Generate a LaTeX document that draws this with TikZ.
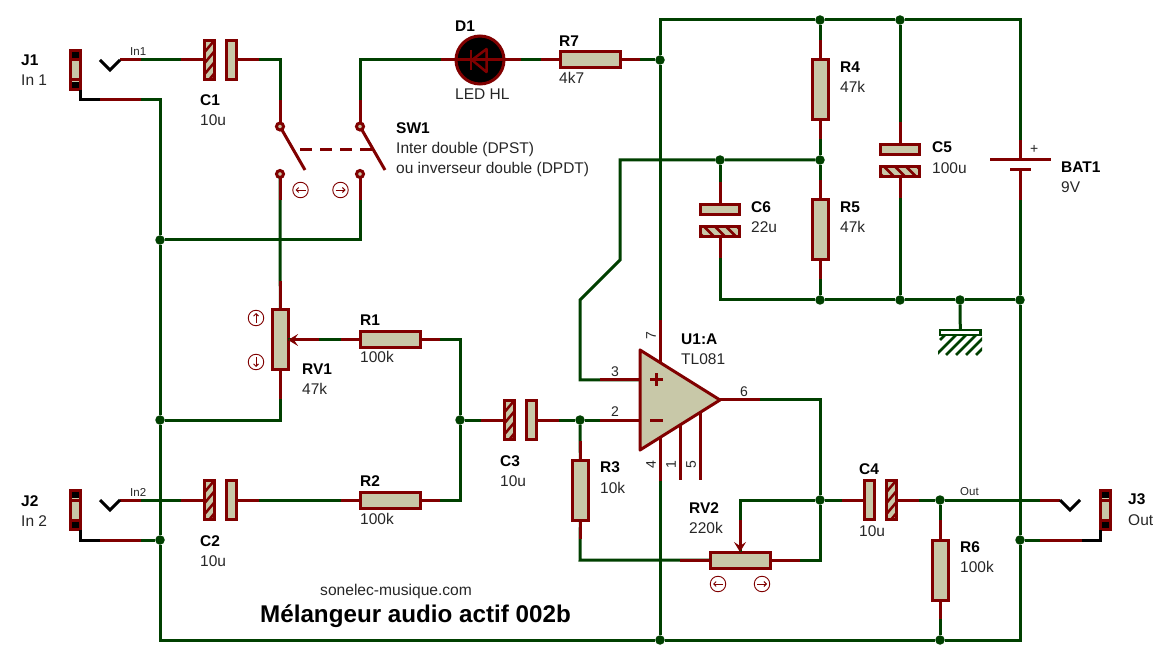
\documentclass[tikz,border=0pt]{standalone}
\usepackage{fontspec}
\setmainfont{Liberation Sans}
\usetikzlibrary{arrows.meta}
\definecolor{wgreen}{HTML}{004000}
\definecolor{pinred}{HTML}{800000}
\definecolor{tan}{HTML}{C8C8A8}
\tikzset{
 gw/.style={draw=wgreen,line width=3pt,line join=miter},
 mw/.style={draw=pinred,line width=3pt},
 bw/.style={draw=black,line width=3pt,line join=miter},
 body/.style={draw=pinred,fill=tan,line width=3pt,inner sep=0pt,outer sep=0pt,rectangle},
 resh/.style={body,minimum width=60pt,minimum height=16pt},
 resv/.style={body,minimum width=16pt,minimum height=60pt},
 potv/.style={body,minimum width=15.5pt,minimum height=60pt},
 capv/.style={body,minimum width=9.5pt,minimum height=39.5pt},
 caph/.style={body,minimum width=39.5pt,minimum height=9.5pt},
 hatchv/.style={capv,path picture={\foreach \k in {-30,-19,...,30}
   \draw[pinred,line width=2.5pt] ([shift={(-10pt,{\k pt-12pt})}]path picture bounding box.center) -- ++(20pt,24pt);}},
 hatchh/.style={caph,path picture={\foreach \k in {-33,-22,...,33}
   \draw[pinred,line width=2.5pt] ([shift={({\k pt-10pt},10pt)}]path picture bounding box.center) -- ++(20pt,-20pt);}},
 dot/.style={circle,fill=wgreen,inner sep=0pt,outer sep=0pt,minimum size=9.5pt},
 contact/.style={circle,draw=pinred,fill=tan,line width=3pt,inner sep=0pt,outer sep=0pt,minimum size=7pt},
 jackbox/.style={body,minimum width=10pt,minimum height=39.5pt},
 ctl/.style={circle,draw=pinred,line width=.9pt,inner sep=0pt,minimum size=15.5pt},
 ctlar/.style={draw=pinred,line width=.9pt,-{Straight Barb[length=2.5pt,width=5pt]}},
 bl/.style={anchor=base west,inner sep=0pt,font=\fontsize{15.5}{17}\selectfont\bfseries},
 vl/.style={anchor=base west,inner sep=0pt,text=black!85,font=\fontsize{15.5}{17}\selectfont},
 sm/.style={anchor=base west,inner sep=0pt,text=black!85,font=\fontsize{11.5}{13}\selectfont},
 pn/.style={inner sep=0pt,text=black!85,font=\fontsize{14}{15}\selectfont},
}
\newcommand\jackdeco[1]{%
 \fill[black] ([yshift=15pt]#1.center) +(-3.5pt,-3.2pt) rectangle +(3.5pt,3.2pt);
 \fill[black] ([yshift=-15pt]#1.center) +(-3.5pt,-3.2pt) rectangle +(3.5pt,3.2pt);
 \draw[pinred,line width=3pt] ([yshift=10pt]#1.center) +(-5pt,0) -- +(5pt,0);
 \draw[pinred,line width=3pt] ([yshift=-10pt]#1.center) +(-5pt,0) -- +(5pt,0);}
\newcommand\ctlsym[4]{\node[ctl] (#1) at (#2,#3) {};
 \draw[ctlar,shift={(#1.center)},rotate=#4] (-5pt,0pt) -- (5pt,0pt);}
\begin{document}
\begin{tikzpicture}[x=1pt,y=-1pt]
\useasboundingbox[fill=white] (0,0) rectangle (1160,660);
% components
\node[jackbox] (J1) at (75,70) {};
\node[jackbox] (J2) at (75,510) {};
\node[jackbox] (J3) at (1105,510) {};
\jackdeco{J1}\jackdeco{J2}\jackdeco{J3}
\coordinate (J1t) at (120,60);
\coordinate (J2t) at (120,500);
\coordinate (J3t) at (1060,500);
\coordinate (J1s) at (80,100);
\coordinate (J2s) at (80,540);
\coordinate (J3s) at (1100,540);
\node[hatchv] (C1L) at (209.7,60) {};
\node[capv] (C1R) at (231.5,60) {};
\node[hatchv] (C2L) at (209.7,500) {};
\node[capv] (C2R) at (231.5,500) {};
\node[hatchv] (C3L) at (509.7,420) {};
\node[capv] (C3R) at (531.5,420) {};
\node[capv] (C4L) at (869.5,500) {};
\node[hatchv] (C4R) at (891.5,500) {};
\node[caph] (C5a) at (900,149.3) {};
\node[hatchh] (C5b) at (900,171.5) {};
\node[caph] (C6a) at (720,209.3) {};
\node[hatchh] (C6b) at (720,231.5) {};
\node[resh] (R1) at (390.5,340) {};
\node[resh] (R2) at (390.5,500) {};
\node[resv] (R3) at (580.3,490) {};
\node[resv] (R4) at (820,90) {};
\node[resv] (R5) at (820,230) {};
\node[resv] (R6) at (940,570) {};
\node[resh] (R7) at (590.5,60) {};
\node[potv] (RV1) at (280.3,340) {};
\node[resh] (RV2) at (740,560) {};
\node[circle,draw=pinred,fill=black,line width=3pt,inner sep=0pt,outer sep=0pt,minimum size=48pt] (D1) at (480,60) {};
\node[contact] (SWa) at (280,126.5) {};
\node[contact] (SWb) at (360,126.5) {};
\node[contact] (SWc) at (280,174) {};
\node[contact] (SWd) at (360,174) {};
\node[inner sep=0pt,outer sep=0pt,minimum width=80pt,minimum height=100pt] (U1) at (680,400) {};
\node[inner sep=0pt,outer sep=0pt,minimum width=60pt,minimum height=10pt] (BAT1) at (1020,165) {};
\node[draw=wgreen,fill=white,line width=2.5pt,inner sep=0pt,outer sep=0pt,minimum width=40.5pt,minimum height=5pt] (GND) at (960.3,332.5) {};
% junctions
\node[dot] (jA) at (160,240) {};
\node[dot] (jB) at (160,420) {};
\node[dot] (jC) at (160,540) {};
\node[dot] (jD) at (660,640) {};
\node[dot] (jE) at (940,640) {};
\node[dot] (jF) at (460,420) {};
\node[dot] (jG) at (580,420) {};
\node[dot] (jH) at (720,160) {};
\node[dot] (jI) at (820,160) {};
\node[dot] (jJ) at (820,300) {};
\node[dot] (jK) at (820,20) {};
\node[dot] (jL) at (900,20) {};
\node[dot] (jM) at (900,300) {};
\node[dot] (jN) at (1020,300) {};
\node[dot] (jO) at (660,60) {};
\node[dot] (jQ) at (820,500) {};
\node[dot] (jR) at (940,500) {};
\node[dot] (jS) at (1020,540) {};
\node[dot] (jV) at (960,300) {};
% bends and pins
\coordinate (k1) at (580,380);
\coordinate (k2) at (580,300);
\coordinate (k3) at (620,260);
\coordinate (k4) at (620,160);
\coordinate (k7) at (660,20);
\coordinate (k8) at (1020,20);
\coordinate (k9) at (160,640);
\coordinate (k10) at (1020,640);
\coordinate (k11) at (820,400);
\coordinate (k12) at (820,560);
\coordinate (k13) at (580,560);
\coordinate (p2) at (640,420);
\coordinate (p3) at (640,380);
\coordinate (p7) at (660,362.5);
\coordinate (p4) at (660,437.5);
\coordinate (p1) at (680,425);
\coordinate (p5) at (700,412.5);
% green wires
\draw[gw] (J1s) -| (jA);
\draw[gw] (jA) -- (jB);
\draw[gw] (jB) -- (jC);
\draw[gw] (jC) -- (k9) -- (jD) -- (jE) -- (k10) -- (jS) -- (jN) -- (BAT1.south);
\draw[gw] (J2s) -- (jC);
\draw[gw] (J3s) -- (jS);
\draw[gw] (J1t) -- (C1L.west);
\draw[gw] (J2t) -- (C2L.west);
\draw[gw] (C1R.east) -| (SWa);
\draw[gw] (SWb) |- (D1);
\draw[gw] (D1) -- (R7);
\draw[gw] (R7) -- (jO);
\draw[gw] (SWc) -- (RV1.north);
\draw[gw] (SWd) |- (jA);
\draw[gw] (RV1.south) |- (jB);
\draw[gw] (R1.west) -- (RV1.east);
\draw[gw] (R1.east) -| (jF);
\draw[gw] (R2.east) -| (jF);
\draw[gw] (R2.west) -- (C2R.east);
\draw[gw] (jF) -- (C3L.west);
\draw[gw] (C3R.east) -- (jG);
\draw[gw] (jG) -- (p2);
\draw[gw] (p3) -- (k1) -- (k2) -- (k3) -- (k4) -- (jH) -- (jI);
\draw[gw] (jH) -- (C6a.north);
\draw[gw] (C6b.south) |- (jJ);
\draw[gw] (jK) -- (R4.north);
\draw[gw] (R4.south) -- (jI);
\draw[gw] (jI) -- (R5.north);
\draw[gw] (R5.south) -- (jJ);
\draw[gw] (jL) -- (C5a.north);
\draw[gw] (C5b.south) -- (jM);
\draw[gw] (jJ) -- (jM) -- (jV) -- (jN);
\draw[gw] (jV) -- (GND.north);
\draw[gw] (p7) -- (jO) -- (k7) -- (jK) -- (jL) -- (k8) -- (BAT1.north);
\draw[gw] (p4) -- (jD);
\draw[gw] (U1.east) -- (k11) -- (jQ);
\draw[gw] (jQ) -- (k12) -- (RV2.east);
\draw[gw] (RV2.west) -- (k13) -- (R3.south);
\draw[gw] (R3.north) -- (jG);
\draw[gw] (jQ) -| (RV2.north);
\draw[gw] (jQ) -- (C4L.west);
\draw[gw] (C4R.east) -- (jR);
\draw[gw] (jR) -- (J3t);
\draw[gw] (jR) -- (R6.north);
\draw[gw] (R6.south) -- (jE);
% red pin stubs
\draw[mw] (J1s) ++(20,0) -- ++(41,0);
\draw[mw] (J2s) ++(20,0) -- ++(41,0);
\draw[mw] (J3s) ++(-18,0) -- ++(-42,0);
\draw[mw] (J1t) -- ++(21,0);
\draw[mw] (J2t) -- ++(21,0);
\draw[mw] (J3t) -- ++(-20,0);
\draw[mw] (C1L.west) -- ++(-24,0);
\draw[mw] (C2L.west) -- ++(-24,0);
\draw[mw] (C3L.west) -- ++(-24,0);
\draw[mw] (C1R.east) -- ++(23,0);
\draw[mw] (C2R.east) -- ++(23,0);
\draw[mw] (C3R.east) -- ++(23,0);
\draw[mw] (C4L.west) -- ++(-23,0);
\draw[mw] (C4R.east) -- ++(23,0);
\draw[mw] (C5a.north) -- ++(0,-23);
\draw[mw] (C5b.south) -- ++(0,22);
\draw[mw] (C6a.north) -- ++(0,-23);
\draw[mw] (C6b.south) -- ++(0,22);
\draw[mw] (SWa) -- ++(0,-26);
\draw[mw] (SWb) -- ++(0,-26);
\draw[mw] (SWc) -- ++(0,26);
\draw[mw] (SWd) -- ++(0,26);
\draw[mw] (D1.west) -- ++(-15,0);
\draw[mw] (D1.east) -- ++(17,0);
\draw[mw] (R7.west) -- ++(-20,0);
\draw[mw] (R7.east) -- ++(19,0);
\draw[mw] (R1.west) -- ++(-20,0);
\draw[mw] (R1.east) -- ++(19,0);
\draw[mw] (R2.west) -- ++(-20,0);
\draw[mw] (R2.east) -- ++(19,0);
\draw[mw] (R3.north) -- ++(0,-19);
\draw[mw] (R3.south) -- ++(0,19);
\draw[mw] (R4.north) -- ++(0,-20);
\draw[mw] (R4.south) -- ++(0,19);
\draw[mw] (R5.north) -- ++(0,-20);
\draw[mw] (R5.south) -- ++(0,19);
\draw[mw] (R6.north) -- ++(0,-20);
\draw[mw] (R6.south) -- ++(0,19);
\draw[mw] (RV1.north) -- ++(0,-29);
\draw[mw] (RV1.south) -- ++(0,29);
\draw[mw,{Stealth[length=10pt,width=12pt,inset=4pt]}-] (RV1.east) -- ++(31,0);
\draw[mw] (RV2.west) -- ++(-30,0);
\draw[mw] (RV2.east) -- ++(30,0);
\draw[mw,{Stealth[length=10pt,width=12pt,inset=4pt]}-] (RV2.north) -- ++(0,-32);
\draw[mw] (BAT1.north) -- ++(0,-20);
\draw[mw] (BAT1.south) -- ++(0,30);
\draw[mw] (p2) -- ++(-40,0);
\draw[mw] (p3) -- ++(-40,0);
\draw[mw] (p7) -- ++(0,-42);
\draw[mw] (p4) -- ++(0,43);
\draw[mw] (p1) -- ++(0,55);
\draw[mw] (p5) -- ++(0,67.5);
\draw[mw] (U1.east) -- ++(40,0);
% jacks
\draw[bw] ([xshift=5pt]J1.south) -- (J1s) -- ++(20,0);
\draw[bw] ([xshift=5pt]J2.south) -- (J2s) -- ++(20,0);
\draw[bw] ([xshift=-5pt]J3.south) -- (J3s) -- ++(-18,0);
\draw[bw] (J1t) -- ++(-10,10) -- ++(-10,-10);
\draw[bw] (J2t) -- ++(-10,10) -- ++(-10,-10);
\draw[bw] (J3t) -- ++(10,10) -- ++(10,-10);
% switch
\draw[mw] (SWa) -- ++(25,43.5);
\draw[mw] (SWb) -- ++(25,43.5);
\draw[pinred,line width=3pt,dash pattern=on 12pt off 8pt] (300,150) -- (372,150);
\ctlsym{cs1}{300.5}{190}{180}
\ctlsym{cs2}{340.5}{190}{0}
\ctlsym{cr1}{256}{318}{90}
\ctlsym{cr2}{256}{362}{-90}
\ctlsym{cv1}{718}{584}{180}
\ctlsym{cv2}{762}{584}{0}
% LED symbol
\draw[mw] (D1.west) -- (D1.east);
\draw[pinred,line width=2.5pt] (471,50) -- (471,70);
\draw[pinred,line width=2.5pt,line join=round] (472,60) -- (486.5,49) -- (486.5,72) -- cycle;
% op amp
\draw[draw=pinred,fill=tan,line width=3pt,line join=round] (U1.north west) -- (U1.east) -- (U1.south west) -- cycle;
\draw[mw] (650,380) -- (663,380);
\draw[mw] (656.5,373.5) -- (656.5,386.5);
\draw[mw] (650,420) -- (663,420);
% battery plates
\draw[mw] (990,160) -- (1051,160);
\draw[mw] (1010,170) -- (1031,170);
% ground hatching
\begin{scope}
\clip (938,337) rectangle (982,356);
\foreach \a in {936,946,956,966,976}
 \draw[wgreen,line width=2.5pt] (\a,355) -- ++(20,-20);
\draw[wgreen,line width=2.5pt] (940,340) -- ++(5,-5);
\end{scope}
% labels
\node[bl] (tJ1) at (21,66) {J1};
\node[vl] (vJ1) at (21,86) {In 1};
\node[bl] (tJ2) at (21,506) {J2};
\node[vl] (vJ2) at (21,526) {In 2};
\node[bl] (tJ3) at (1128,504) {J3};
\node[vl] (vJ3) at (1128,525) {Out};
\node[sm] (n1) at (130,56) {In1};
\node[sm] (n2) at (130,496) {In2};
\node[sm] (n3) at (960,495) {Out};
\node[bl] (tC1) at (200,106) {C1};
\node[vl] (vC1) at (200,126) {10u};
\node[bl] (tC2) at (200,546) {C2};
\node[vl] (vC2) at (200,566) {10u};
\node[bl] (tC3) at (500,466) {C3};
\node[vl] (vC3) at (500,486) {10u};
\node[bl] (tC4) at (859,474) {C4};
\node[vl] (vC4) at (859,536) {10u};
\node[bl] (tC5) at (932,153) {C5};
\node[vl] (vC5) at (932,174) {100u};
\node[bl] (tC6) at (751,213) {C6};
\node[vl] (vC6) at (751,233) {22u};
\node[bl] (tD1) at (455,32) {D1};
\node[vl] (vD1) at (455,100) {LED HL};
\node[bl] (tR7) at (559,47) {R7};
\node[vl] (vR7) at (559,84) {4k7};
\node[bl] (tSW) at (396,134) {SW1};
\node[vl] (vSW1) at (396,154) {Inter double (DPST)};
\node[vl] (vSW2) at (396,174) {ou inverseur double (DPDT)};
\node[bl] (tR4) at (840,73) {R4};
\node[vl] (vR4) at (840,93) {47k};
\node[bl] (tR5) at (840,213) {R5};
\node[vl] (vR5) at (840,233) {47k};
\node[bl] (tBAT) at (1061,173) {BAT1};
\node[vl] (vBAT) at (1061,193) {9V};
\node[anchor=base west,inner sep=0pt,text=black!85,font=\fontsize{14}{15}\selectfont] (plus) at (1030,154) {+};
\node[bl] (tU1) at (681,345) {U1:A};
\node[vl] (vU1) at (681,365) {TL081};
\node[pn,anchor=base] (n3p) at (615,376.5) {3};
\node[pn,anchor=base] (n2p) at (615,416.5) {2};
\node[pn,anchor=base] (n6p) at (744,396.5) {6};
\node[pn,rotate=90] (n7p) at (651,336) {7};
\node[pn,rotate=90] (n4p) at (651,465) {4};
\node[pn,rotate=90] (n1p) at (671,465) {1};
\node[pn,rotate=90] (n5p) at (691,465) {5};
\node[bl] (tR3) at (600,472) {R3};
\node[vl] (vR3) at (600,493) {10k};
\node[bl] (tR1) at (360,326) {R1};
\node[vl] (vR1) at (360,363) {100k};
\node[bl] (tR2) at (360,486) {R2};
\node[vl] (vR2) at (360,524) {100k};
\node[bl] (tRV1) at (302,375) {RV1};
\node[vl] (vRV1) at (302,395) {47k};
\node[bl] (tRV2) at (689,513) {RV2};
\node[vl] (vRV2) at (689,533) {220k};
\node[bl] (tR6) at (960,552) {R6};
\node[vl] (vR6) at (960,572) {100k};
\node[anchor=base west,inner sep=0pt,text=black!85,font=\fontsize{15.6}{17}\selectfont] (site) at (320,595) {sonelec-musique.com};
\node[anchor=base west,inner sep=0pt,font=\fontsize{24.2}{27}\selectfont\bfseries] (title) at (260,622) {Mélangeur audio actif 002b};
\end{tikzpicture}
\end{document}
